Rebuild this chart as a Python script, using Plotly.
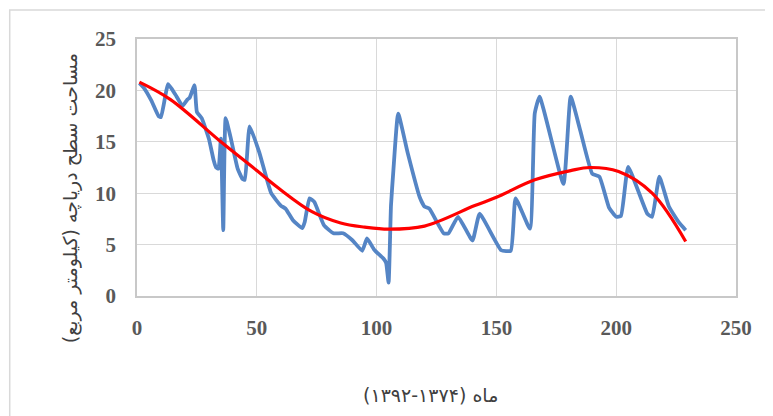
import plotly.graph_objects as go

# Monthly lake surface area (blue series)
month = [1, 3, 6, 9, 10, 13, 16, 19, 21, 22, 24, 25, 27, 30, 32, 33, 34, 35, 36, 37,
         39, 42, 44, 45, 47, 51, 56, 60, 62, 65, 69, 70, 72, 74, 78, 82, 86, 90, 94, 96,
         99, 103, 104, 105, 106, 107, 109, 113, 118, 120, 122, 128, 130, 134, 140, 143,
         152, 156, 158, 164, 166, 168, 178, 181, 185, 190, 193, 197, 200, 202, 205, 213,
         215, 218, 222, 226, 229]
area = [20.7, 20.2, 19.0, 17.5, 17.4, 20.6, 19.6, 18.5, 19.1, 19.3, 20.5, 17.9, 17.3, 15.3,
        13.2, 12.5, 12.4, 15.3, 6.4, 17.3, 15.5, 12.4, 11.4, 11.3, 16.5, 14.0, 10.0, 8.8,
        8.5, 7.4, 6.6, 7.2, 9.5, 9.15, 6.9, 6.1, 6.1, 5.4, 4.4, 5.6, 4.5, 3.6, 3.2, 1.3,
        8.8, 12.2, 17.75, 13.9, 9.6, 8.7, 8.5, 6.1, 6.1, 7.7, 5.4, 8.0, 4.45, 4.4, 9.5,
        6.55, 17.75, 19.4, 10.9, 19.4, 16.1, 11.9, 11.6, 8.6, 7.7, 7.8, 12.55, 8.0, 7.7,
        11.6, 8.7, 7.2, 6.4]

# Polynomial trend (red series)
trend_x = [1, 14, 35, 50, 59, 73, 85, 95, 105, 120, 141, 150, 166, 181, 189, 201, 215, 229]
trend_y = [20.8, 19.1, 15.0, 12.2, 10.5, 8.2, 7.1, 6.7, 6.5, 6.8, 8.8, 9.6, 11.3, 12.2,
           12.5, 12.1, 10.0, 5.3]

x_ticks = [0, 50, 100, 150, 200, 250]
y_ticks = [0, 5, 10, 15, 20, 25]

y_title = "\u202Bمساحت سطح دریاچه (کیلومتر مربع)\u202C"
x_title = "\u202Bماه (۱۳۷۴-۱۳۹۲)\u202C"

fig = go.Figure()
fig.add_trace(go.Scatter(x=month, y=area, mode="lines",
                         line=dict(color="#5585C5", width=3.8, shape="spline", smoothing=0.4),
                         showlegend=False, hoverinfo="x+y"))
fig.add_trace(go.Scatter(x=trend_x, y=trend_y, mode="lines",
                         line=dict(color="#FF0000", width=3.2, shape="spline", smoothing=1.0),
                         showlegend=False, hoverinfo="x+y"))

tickfont = dict(family="Liberation Serif", size=21, color="#595959", weight="bold")

fig.update_layout(
    width=765, height=408,
    margin=dict(l=129, r=37, t=31, b=120),
    paper_bgcolor="white", plot_bgcolor="white",
    xaxis=dict(range=[0, 250], tickvals=x_ticks, showgrid=True, gridcolor="#d9d9d9",
               gridwidth=1, zeroline=False, showline=True, linecolor="#c8c8c8", linewidth=1.5,
               mirror=True, ticks="", tickfont=tickfont, ticklabelstandoff=12),
    yaxis=dict(range=[0, 25], tickvals=y_ticks, showgrid=True, gridcolor="#d9d9d9",
               gridwidth=1, zeroline=False, showline=True, linecolor="#c8c8c8", linewidth=1.5,
               mirror=True, ticks="", tickfont=tickfont, ticklabelstandoff=15),
    annotations=[
        dict(text=y_title, xref="paper", yref="paper", x=-0.112, y=0.38, textangle=-90,
             showarrow=False, font=dict(family="DejaVu Sans", size=19, color="#404040"),
             xanchor="center", yanchor="middle"),
        dict(text=x_title, xref="paper", yref="paper", x=0.49, y=-0.385,
             showarrow=False, font=dict(family="DejaVu Sans", size=19, color="#404040"),
             xanchor="center", yanchor="middle"),
    ],
    shapes=[
        dict(type="rect", xref="paper", yref="paper", x0=-0.2125, y0=-0.6, x1=1.2, y1=1.113,
             line=dict(color="#d9d9d9", width=1.5), fillcolor="rgba(0,0,0,0)", layer="below"),
    ],
)

fig.write_html("out.html")
